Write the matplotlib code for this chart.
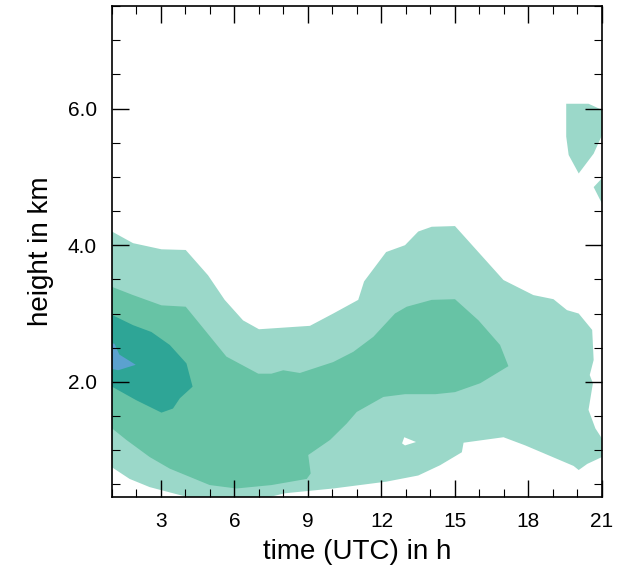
import numpy as np
import matplotlib
matplotlib.use("Agg")
import matplotlib.pyplot as plt
from matplotlib.ticker import MultipleLocator, FormatStrFormatter

plt.rcParams['font.family'] = ['Liberation Sans', 'DejaVu Sans']

# contour outlines: (time in h, height in km)
light_t = [1, 1.86, 3.02, 4.01, 4.92, 5.6, 6.35, 7.0, 9.08, 10.03, 11.05, 11.29, 12.19, 12.96,
           13.5, 14.05, 15.0, 16.98, 18.2, 19.02, 19.57, 20.05, 20.6, 20.66, 20.5, 20.63, 20.45,
           20.73, 21, 21, 20.4, 20.05, 19.84, 17.87, 16.98, 15.35, 15.28, 14.39, 13.5, 12.2,
           10.03, 8.06, 7.04, 4.45, 2.54, 1.72, 1]
light_z = [4.20, 4.03, 3.94, 3.93, 3.56, 3.20, 2.90, 2.77, 2.82, 3.00, 3.20, 3.47, 3.90, 4.00,
           4.20, 4.27, 4.28, 3.49, 3.27, 3.21, 3.05, 3.00, 2.76, 2.32, 2.10, 1.98, 1.59,
           1.32, 1.17, 0.90, 0.80, 0.71, 0.77, 1.07, 1.19, 1.11, 0.97, 0.78, 0.63, 0.54,
           0.44, 0.37, 0.28, 0.28, 0.46, 0.58, 0.75]

hole_t = [12.84, 12.93, 13.41, 12.96]
hole_z = [1.10, 1.19, 1.12, 1.07]

top_t = [19.54, 20.45, 21, 21, 20.66, 20.05, 19.64, 19.54]
top_z = [6.07, 6.07, 5.98, 5.61, 5.34, 5.05, 5.32, 5.59]

side_t = [21, 20.66, 21]
side_z = [4.98, 4.85, 4.61]

mid_t = [1, 1.86, 3.02, 4.01, 4.58, 5.67, 6.97, 7.51, 7.99, 8.67, 10.03, 10.85, 11.67, 12.55,
         13.03, 14.05, 15.0, 15.96, 16.84, 17.18, 16.03, 15.0, 14.2, 12.96, 12.08, 10.99,
         10.58, 9.9, 9.01, 9.11, 8.95, 7.51, 6.08, 4.99, 3.36, 2.54, 1.59, 1]
mid_z = [3.39, 3.27, 3.12, 3.10, 2.85, 2.37, 2.12, 2.12, 2.17, 2.13, 2.29, 2.44, 2.66, 3.00,
         3.10, 3.20, 3.21, 2.90, 2.54, 2.23, 1.98, 1.85, 1.82, 1.82, 1.78, 1.56,
         1.39, 1.15, 0.93, 0.66, 0.58, 0.49, 0.44, 0.49, 0.73, 0.90, 1.15, 1.32]

dark_t = [1, 1.86, 2.61, 3.36, 4.04, 4.29, 3.77, 3.49, 3.02, 2.0, 1]
dark_z = [2.98, 2.83, 2.73, 2.54, 2.27, 1.93, 1.76, 1.61, 1.55, 1.73, 1.93]

core_t = [1, 1.1, 1.3, 1.97, 1.25, 1]
core_z = [2.56, 2.56, 2.40, 2.25, 2.17, 2.19]

c_light = '#9bd8c9'
c_mid = '#67c3a5'
c_dark = '#2ea596'
c_core = '#5ba1cf'

fig = plt.figure(figsize=(6.27, 5.74), dpi=100)
ax = fig.add_axes([0.1786, 0.1347, 0.7815, 0.8548])

ax.fill(light_t, light_z, color=c_light, lw=0)
ax.fill(top_t, top_z, color=c_light, lw=0)
ax.fill(side_t, side_z, color=c_light, lw=0)
ax.fill(hole_t, hole_z, color='white', lw=0)
ax.fill(mid_t, mid_z, color=c_mid, lw=0)
ax.fill(dark_t, dark_z, color=c_dark, lw=0)
ax.fill(core_t, core_z, color=c_core, lw=0)

ax.set_xlim(1, 21)
ax.set_ylim(0.32, 7.5)
ax.xaxis.set_major_locator(MultipleLocator(3))
ax.xaxis.set_minor_locator(MultipleLocator(1))
ax.yaxis.set_major_locator(MultipleLocator(2))
ax.yaxis.set_minor_locator(MultipleLocator(0.5))
ax.yaxis.set_major_formatter(FormatStrFormatter('%.1f'))
ax.set_xticks([3, 6, 9, 12, 15, 18, 21])
ax.set_yticks([2, 4, 6])

ax.tick_params(which='both', direction='in', top=True, right=True, labelsize=15)
ax.tick_params(which='major', length=12, width=1.0, pad=11)
ax.tick_params(which='minor', length=5.5, width=0.8)
for s in ax.spines.values():
    s.set_linewidth(1.2)

ax.set_xlabel('time (UTC) in h', fontsize=20, labelpad=6)
ax.set_ylabel('height in km', fontsize=20, labelpad=10)

fig.savefig('out.png', dpi=100)
